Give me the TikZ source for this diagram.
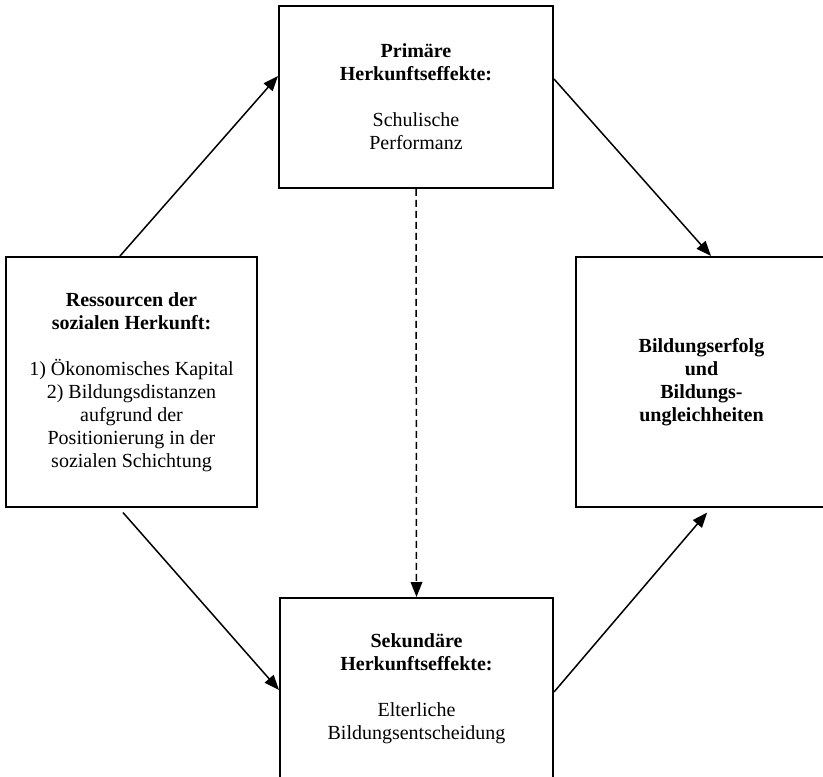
\documentclass[tikz,border=0pt]{standalone}
\usepackage{fontspec}
\setmainfont{Liberation Serif}
\usetikzlibrary{arrows.meta}
\begin{document}
\begin{tikzpicture}[x=0.6pt,y=-0.6pt,
  box/.style={draw, line width=1.2pt, inner sep=0pt, align=center,
    font=\fontsize{12pt}{13.8pt}\selectfont},
  conn/.style={line width=0.9pt, -{Triangle[length=9pt,width=7pt]}},
  dconn/.style={conn, dash pattern=on 4.2pt off 2.4pt}]
\clip (0,0) rectangle (823,777);
\fill[white] (0,0) rectangle (823,777);
\node[box, minimum width=164.4pt, minimum height=109.2pt] (P) at (416,97)
  {\textbf{Primäre}\\\textbf{Herkunftseffekte:}\\[13.8pt]Schulische\\Performanz};
\node[box, minimum width=150.6pt, minimum height=150pt] (L) at (131.5,382)
  {\textbf{Ressourcen der}\\\textbf{sozialen Herkunft:}\\[13.8pt]1) Ökonomisches Kapital\\2) Bildungsdistanzen\\aufgrund der\\Positionierung in der\\sozialen Schichtung};
\node[box, minimum width=150.6pt, minimum height=150pt] (R) at (701.5,382)
  {\textbf{Bildungserfolg}\\\textbf{und}\\\textbf{Bildungs-}\\\textbf{ungleichheiten}};
\node[box, minimum width=163.8pt, minimum height=109.2pt] (S) at (416.5,689)
  {\textbf{Sekundäre}\\\textbf{Herkunftseffekte:}\\[13.8pt]Elterliche\\Bildungsentscheidung};
\draw[conn] ([xshift=69pt]L.north west) -- ([yshift=-42.6pt]P.north west);
\draw[conn] ([yshift=-44.4pt]P.north east) -- ([xshift=81.6pt]R.north west);
\draw[conn, shorten <=3.6pt] ([xshift=68.4pt]L.south west) -- ([yshift=-55.8pt]S.north west);
\draw[conn, shorten >=3.6pt] ([yshift=-57pt]S.north east) -- ([xshift=81.6pt]R.south west);
\draw[dconn] (P.south) -- (S.north);
\end{tikzpicture}
\end{document}
